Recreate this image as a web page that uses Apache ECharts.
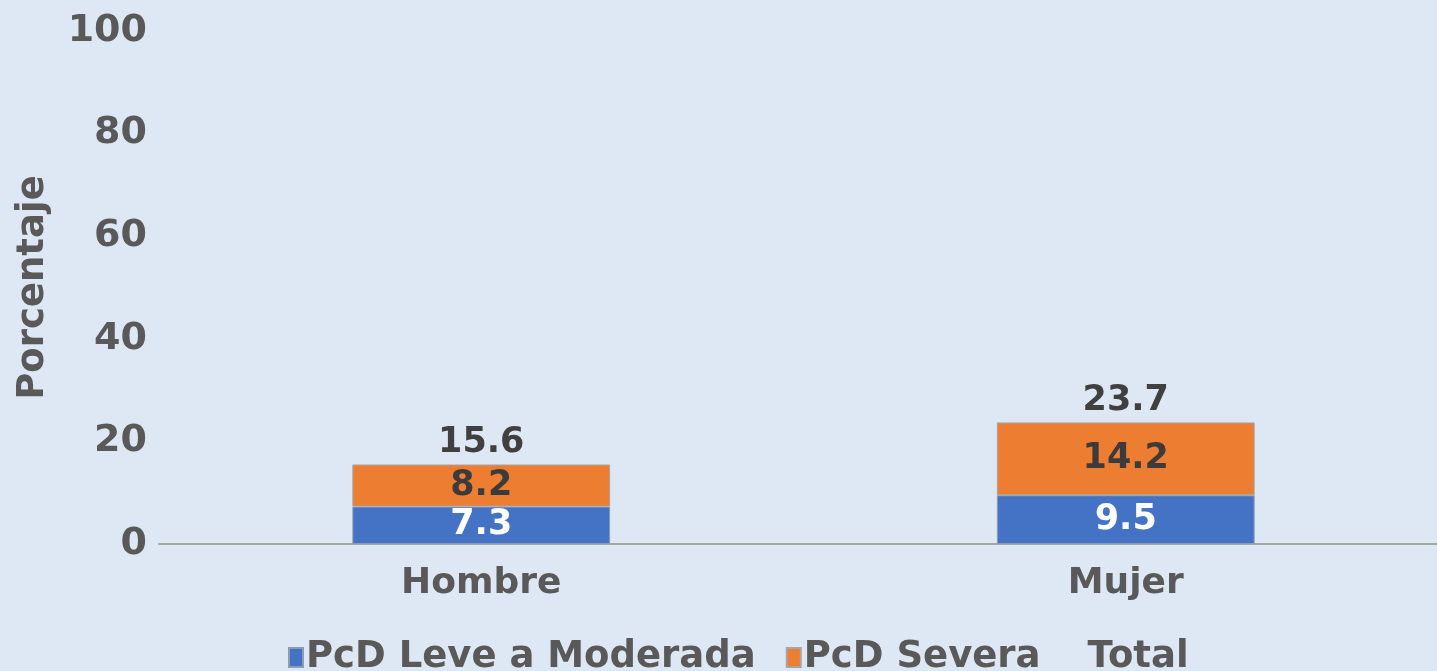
<!DOCTYPE html>
<html>
<head>
<meta charset="utf-8">
<script src="https://cdn.jsdelivr.net/npm/echarts@6/dist/echarts.min.js"></script>
<style>
  html, body { margin: 0; padding: 0; background: #dde8f4; }
  #chart { width: 1437px; height: 671px; }
</style>
</head>
<body>
<div id="chart"></div>
<script>
const categories = ["Hombre", "Mujer"];
const leve = [7.3, 9.5];
const severa = [8.2, 14.2];
const total = [15.6, 23.7];
const yTicks = [0, 20, 40, 60, 80, 100];

const FONT = "DejaVu Sans";
const chart = echarts.init(document.getElementById("chart"));

chart.setOption({
  backgroundColor: "#dde8f4",
  animation: false,
  textStyle: { fontFamily: FONT, fontWeight: "bold" },
  legend: {
    left: 283,
    bottom: -10,
    icon: "rect",
    itemWidth: 14,
    itemHeight: 19,
    itemGap: 30,
    textStyle: { fontFamily: FONT, fontWeight: "bold", fontSize: 37, color: "#595959", padding: [0, 0, 0, -2] },
    data: ["PcD Leve a Moderada", "PcD Severa", "Total"],
  },
  grid: { left: 159, right: -11, top: 31, bottom: 127, outerBoundsMode: "none" },
  xAxis: {
    type: "category",
    data: categories,
    axisLine: { lineStyle: { color: "#a6a6a6", width: 2 } },
    axisTick: { show: false },
    axisLabel: { fontFamily: FONT, fontWeight: "bold", fontSize: 36, color: "#595959", margin: 22 },
  },
  yAxis: {
    type: "value",
    min: yTicks[0],
    max: yTicks[yTicks.length - 1],
    interval: 20,
    name: "Porcentaje",
    nameLocation: "middle",
    nameGap: 107,
    nameTextStyle: { fontFamily: FONT, fontWeight: "bold", fontSize: 37, color: "#595959" },
    axisLine: { show: false },
    axisTick: { show: false },
    splitLine: { show: false },
    axisLabel: { fontFamily: FONT, fontWeight: "bold", fontSize: 38, color: "#595959", margin: 12 },
  },
  series: [
    {
      name: "PcD Leve a Moderada",
      type: "bar",
      stack: "pcd",
      barWidth: "40%",
      data: leve,
      itemStyle: { color: "#4472c4", borderColor: "#8f9db3", borderWidth: 1 },
      label: { show: true, position: "inside", fontFamily: FONT, fontWeight: "bold", fontSize: 35, color: "#ffffff" },
    },
    {
      name: "PcD Severa",
      type: "bar",
      stack: "pcd",
      barWidth: "40%",
      data: severa,
      itemStyle: { color: "#ed7d31", borderColor: "#a9a4a0", borderWidth: 1 },
      label: { show: true, position: "inside", fontFamily: FONT, fontWeight: "bold", fontSize: 35, color: "#3b3b3b" },
    },
    {
      name: "Total",
      type: "bar",
      barWidth: "40%",
      barGap: "-100%",
      data: total,
      z: 1,
      itemStyle: { color: "rgba(0,0,0,0)" },
      label: { show: true, position: "top", distance: 4, fontFamily: FONT, fontWeight: "bold", fontSize: 35, color: "#404040" },
    },
  ],
});
</script>
</body>
</html>
